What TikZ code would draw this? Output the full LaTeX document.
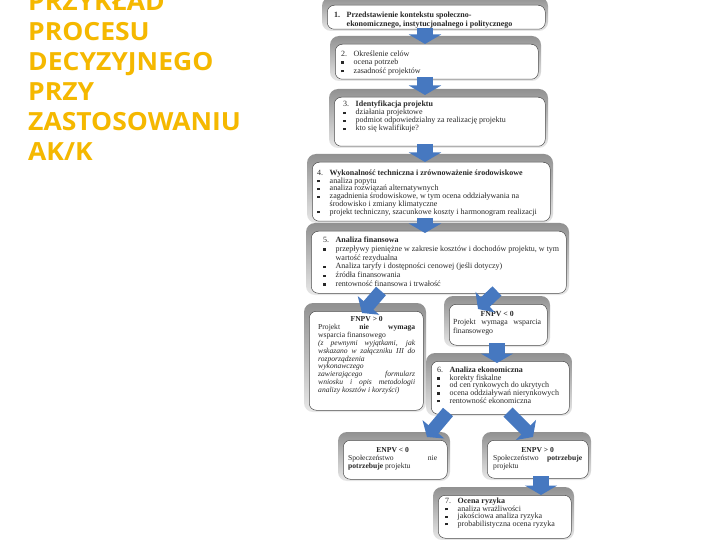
\documentclass[tikz,border=0pt]{standalone}
\usepackage{fontspec}
\setmainfont{Liberation Serif}
\newfontfamily\titlefont[FakeStretch=1.06]{Open Sans}
\usetikzlibrary{arrows.meta}
\definecolor{titleor}{RGB}{245,184,0}
\definecolor{arrblue}{RGB}{70,120,192}
\definecolor{frtop}{RGB}{145,145,145}
\definecolor{frbot}{RGB}{232,232,232}
\definecolor{txtc}{RGB}{40,40,40}
\newcommand{\bul}{\makebox[12.5pt][l]{\rule[0.8pt]{2.3pt}{2.3pt}}}
\newcommand{\nm}[1]{\makebox[12.5pt][l]{#1}}
\newcommand{\ind}{\hspace*{12.5pt}}
\newcommand{\jl}[2]{\makebox[#1pt][s]{#2}}
\newcommand{\gframe}[5]{%
  \shade[rounded corners=9pt, top color=frtop, bottom color=frbot] (#2-5,#3-8) rectangle (#4+3,#5+2);
  \node[wbox, minimum width={(#4-#2)*1pt}, minimum height={(#5-#3)*1pt}] (#1) at (#2,#3) {};
}
\tikzset{
  wbox/.style={draw=black!70, line width=0.5pt, fill=white, rounded corners=7pt, inner sep=0pt, anchor=north west},
  btxt/.style={inner sep=0pt, anchor=north west, align=left, text=txtc, font=\fontsize{8}{8.5}\selectfont},
  blockarrow/.style={draw=arrblue, line width=16pt, -{Triangle[width=32pt,length=9.5pt]}},
  diagarrow/.style={draw=arrblue, line width=13pt, -{Triangle[width=28pt,length=10pt]}},
  title/.style={inner sep=0pt, anchor=north west, align=left, text=titleor,
    font=\titlefont\bfseries\fontsize{25}{30}\selectfont}
}
\begin{document}
\begin{tikzpicture}[x=1pt,y=-1pt]
\useasboundingbox (0,0) rectangle (720,540);
\fill[white] (0,0) rectangle (720,540);

\node[title] (ttl) at (28,-8) {PRZYKŁAD\\PROCESU\\DECYZYJNEGO\\PRZY\\ZASTOSOWANIU\\AK/K};

% boxes
\gframe{b1}{327}{5}{545}{29}
\gframe{b2}{335}{44}{538}{79}
\gframe{b3}{334}{97}{545}{146}
\gframe{b4}{312}{162}{550}{221}
\gframe{b5}{311}{231}{566}{293}
\gframe{fp}{309}{311}{423}{410}
\gframe{fn}{449}{304}{547}{345}
\gframe{b6}{431}{361}{569}{414}
\gframe{en}{343}{440}{447}{479}
\gframe{ep}{487}{440}{588}{478}
\gframe{b7}{438}{495}{571}{538}

% texts
\node[btxt, font=\bfseries\fontsize{8}{9}\selectfont] (t1) at (334,11.3) {\nm{1.}Przedstawienie kontekstu społeczno-\\\ind ekonomicznego, instytucjonalnego i politycznego};
\node[btxt, font=\fontsize{8}{8.5}\selectfont] (t2) at (341,50.3) {\nm{2.}Określenie celów\\\bul ocena potrzeb\\\bul zasadność projektów};
\node[btxt, font=\fontsize{8}{8}\selectfont] (t3) at (343,101) {\nm{3.}\textbf{Identyfikacja projektu}\\\bul działania projektowe\\\bul podmiot odpowiedzialny za realizację projektu\\\bul kto się kwalifikuje?};
\node[btxt, font=\fontsize{8}{7.8}\selectfont] (t4) at (317,169.5) {\nm{4.}\textbf{Wykonalność techniczna i zrównoważenie środowiskowe}\\\bul analiza popytu\\\bul analiza rozwiązań alternatywnych\\\bul zagadnienia środowiskowe, w tym ocena oddziaływania na\\\ind środowisko i zmiany klimatyczne\\\bul projekt techniczny, szacunkowe koszty i harmonogram realizacji};
\node[btxt, font=\fontsize{8}{8.7}\selectfont] (t5) at (323,237) {\nm{5.}\textbf{Analiza finansowa}\\\bul przepływy pieniężne w zakresie kosztów i dochodów projektu, w tym\\\ind wartość rezydualna\\\bul Analiza taryfy i dostępności cenowej (jeśli dotyczy)\\\bul źródła finansowania\\\bul rentowność finansowa i trwałość};
\node[btxt, font=\fontsize{7.6}{7.9}\selectfont] (t6) at (318,316.3) {\makebox[97pt][c]{\textbf{FNPV > 0}}\\\jl{97}{Projekt \textbf{nie wymaga}}\\wsparcia finansowego\\\itshape\jl{97}{(z pewnymi wyjątkami, jak}\\\itshape\jl{97}{wskazano w załączniku III do}\\\itshape rozporządzenia\\\itshape wykonawczego\\\itshape\jl{97}{zawierającego formularz}\\\itshape\jl{97}{wniosku i opis metodologii}\\\itshape analizy kosztów i korzyści)};
\node[btxt, font=\fontsize{7.8}{8.7}\selectfont] (t7) at (453,310.7) {\makebox[88pt][c]{\textbf{FNPV < 0}}\\\jl{88}{Projekt wymaga wsparcia}\\finansowego};
\node[btxt, font=\fontsize{8}{7.6}\selectfont] (t8) at (437,367) {\nm{6.}\textbf{Analiza ekonomiczna}\\\bul korekty fiskalne\\\bul od cen rynkowych do ukrytych\\\bul ocena oddziaływań nierynkowych\\\bul rentowność ekonomiczna};
\node[btxt, font=\fontsize{7.6}{8}\selectfont] (t9) at (348,446.8) {\makebox[89pt][c]{\textbf{ENPV < 0}}\\\jl{89}{Społeczeństwo nie}\\\textbf{potrzebuje} projektu};
\node[btxt, font=\fontsize{7.6}{8}\selectfont] (t10) at (493,446.8) {\makebox[89pt][c]{\textbf{ENPV > 0}}\\\jl{89}{Społeczeństwo \textbf{potrzebuje}}\\projektu};
\node[btxt, font=\fontsize{8}{7.5}\selectfont] (t11) at (445,498) {\nm{7.}\textbf{Ocena ryzyka}\\\bul analiza wrażliwości\\\bul jakościowa analiza ryzyka\\\bul probabilistyczna ocena ryzyka};

% arrows
\coordinate (a1s) at (425,28); \coordinate (a1e) at (425,44);
\coordinate (a2s) at (425,77); \coordinate (a2e) at (425,95);
\coordinate (a3s) at (425,144); \coordinate (a3e) at (425,162);
\coordinate (a4s) at (425,218); \coordinate (a4e) at (425,233);
\coordinate (a5s) at (381,291); \coordinate (a5e) at (362,313);
\coordinate (a6s) at (497,291); \coordinate (a6e) at (478,309);
\coordinate (a7s) at (497,343); \coordinate (a7e) at (497,363);
\coordinate (a8s) at (448,412); \coordinate (a8e) at (427,437);
\coordinate (a9s) at (508,412); \coordinate (a9e) at (533,437);
\coordinate (a10s) at (541,476); \coordinate (a10e) at (541,495);
\draw[blockarrow] (a1s) -- (a1e);
\draw[blockarrow] (a2s) -- (a2e);
\draw[blockarrow] (a3s) -- (a3e);
\draw[blockarrow] (a4s) -- (a4e);
\draw[diagarrow] (a5s) -- (a5e);
\draw[diagarrow] (a6s) -- (a6e);
\draw[blockarrow] (a7s) -- (a7e);
\draw[diagarrow] (a8s) -- (a8e);
\draw[diagarrow] (a9s) -- (a9e);
\draw[blockarrow] (a10s) -- (a10e);
\end{tikzpicture}
\end{document}
